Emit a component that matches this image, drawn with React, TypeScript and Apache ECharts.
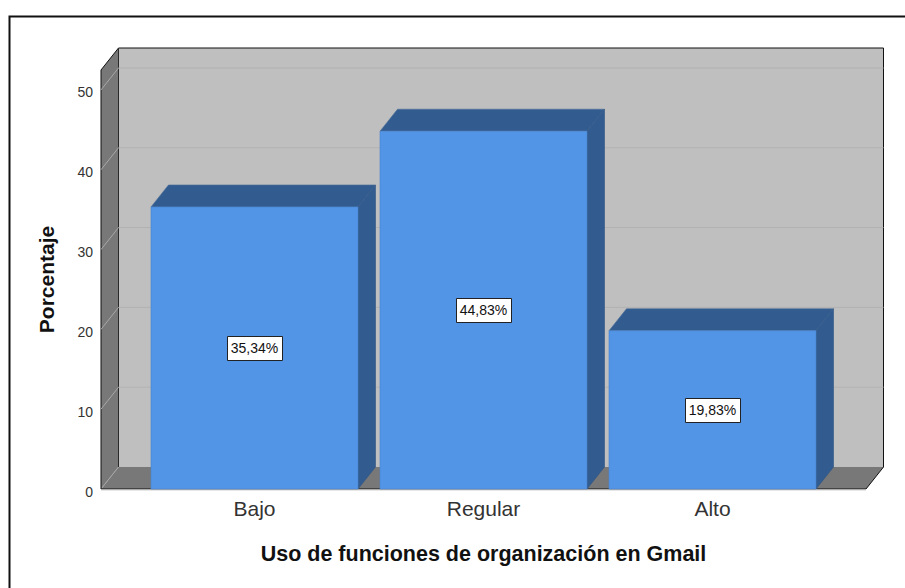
import React, { useEffect, useRef } from "react";
import * as echarts from "echarts";

const categories = ["Bajo", "Regular", "Alto"];
const percentages = [35.34, 44.83, 19.83];
const percentLabels = ["35,34%", "44,83%", "19,83%"];
const yTicks = [0, 10, 20, 30, 40, 50];

const FONT = "'Liberation Sans', Arial, sans-serif";
const DX = 17.5;
const DY = -22;
const PAD = 39;

const renderWall = (params: any, api: any) => {
  const cs = params.coordSys;
  const left = cs.x - PAD;
  const right = cs.x + cs.width + PAD;
  const top = cs.y;
  const bottom = cs.y + cs.height;
  const children: any[] = [];
  const poly = (points: number[][], fill: string) => ({
    type: "polygon",
    shape: { points },
    style: { fill, stroke: "none" },
  });
  const line = (x1: number, y1: number, x2: number, y2: number, stroke: string, lineWidth = 1) => ({
    type: "line",
    shape: { x1, y1, x2, y2 },
    style: { stroke, lineWidth, fill: "none" },
  });
  if (params.dataIndex === 0) {
    children.push(poly([[left + DX, top + DY], [right + DX, top + DY], [right + DX, bottom + DY], [left + DX, bottom + DY]], "#bfbfbf"));
    children.push(poly([[left, top], [left + DX, top + DY], [left + DX, bottom + DY], [left, bottom]], "#787878"));
    children.push(poly([[left, bottom], [left + DX, bottom + DY], [right + DX, bottom + DY], [right, bottom]], "#787878"));
  }
  const y = api.coord([0, api.value(0)])[1];
  children.push(line(left, y, left + DX, y + DY, "#a8a8a8"));
  if (params.dataIndex > 0) children.push(line(left + DX, y + DY, right + DX, y + DY, "#b2b2b2"));
  if (params.dataIndex === 0) {
    children.push(line(left, top, left, bottom, "#111"));
    children.push(line(left, top, left + DX, top + DY, "#111"));
    children.push(line(left + DX, top + DY, right + DX, top + DY, "#111"));
    children.push(line(left + DX, top + DY, left + DX, bottom + DY, "#2a2a2a"));
    children.push(line(right + DX, top + DY, right + DX, bottom + DY, "#111"));
    children.push(line(right, bottom, right + DX, bottom + DY, "#111"));
    children.push(line(left, bottom, right, bottom, "#111"));
    children.push(line(left, bottom + 1, right, bottom + 1, "#d0d0d0"));
  }
  return { type: "group", children };
};

const renderBar = (params: any, api: any) => {
  const i = api.value(0);
  const v = api.value(1);
  const [cx, yTop] = api.coord([i, v]);
  const [, y0] = api.coord([i, 0]);
  const w = api.size([1, 0])[0] * 0.904;
  const x0 = cx - w / 2;
  const x1 = cx + w / 2;
  const dark = "#325c8f";
  const edge = "#2f5687";
  const label = percentLabels[params.dataIndex];
  return {
    type: "group",
    children: [
      { type: "polygon", shape: { points: [[x0, yTop], [x0 + DX, yTop + DY], [x1 + DX, yTop + DY], [x1, yTop]] }, style: { fill: dark, stroke: "#4d6f98", lineWidth: 0.6 } },
      { type: "polygon", shape: { points: [[x1, yTop], [x1 + DX, yTop + DY], [x1 + DX, y0 + DY], [x1, y0]] }, style: { fill: dark, stroke: edge, lineWidth: 0.6 } },
      { type: "rect", shape: { x: x0, y: yTop, width: w, height: y0 - yTop }, style: { fill: "#5294e6", stroke: "#4a85cf", lineWidth: 0.6 } },
      { type: "rect", shape: { x: Math.round(cx - 27.5) + 0.5, y: Math.round((y0 + yTop) / 2 - 12) + 0.5, width: 55, height: 24 }, style: { fill: "#ffffff", stroke: "#222222", lineWidth: 1 } },
      { type: "text", style: { text: label, x: cx, y: (y0 + yTop) / 2, align: "center", verticalAlign: "middle", fill: "#111", font: `14px ${FONT}` } },
    ],
  };
};

export default function App() {
  const ref = useRef<HTMLDivElement>(null);
  useEffect(() => {
    const chart = echarts.init(ref.current!, undefined, { renderer: "svg" });
    chart.setOption({
      animation: false,
      backgroundColor: "#ffffff",
      textStyle: { fontFamily: FONT },
      graphic: [
        { type: "polyline", silent: true, shape: { points: [[9.5, 600], [9.5, 16.5], [910, 16.5]] }, style: { stroke: "#111", lineWidth: 2, fill: "none" } },
      ],
      grid: { left: 140, right: 78, top: 70, bottom: 99 },
      xAxis: {
        type: "category",
        data: categories,
        name: "Uso de funciones de organización en Gmail",
        nameLocation: "middle",
        nameGap: 54,
        nameTextStyle: { fontFamily: FONT, fontSize: 21.5, fontWeight: "bold", color: "#111" },
        axisLine: { show: false },
        axisTick: { show: false },
        axisLabel: { fontFamily: FONT, fontSize: 21, color: "#333", margin: 9 },
        splitLine: { show: false },
      },
      yAxis: {
        type: "value",
        min: 0,
        max: 52.5,
        interval: 10,
        offset: 39,
        name: "Porcentaje",
        nameLocation: "middle",
        nameGap: 44,
        nameTextStyle: { fontFamily: FONT, fontSize: 21, fontWeight: "bold", color: "#111" },
        axisLine: { show: false },
        axisTick: { show: false },
        axisLabel: { fontFamily: FONT, fontSize: 14, color: "#333", margin: 8, showMaxLabel: false, verticalAlign: "top", lineHeight: 5 },
        splitLine: { show: false },
      },
      series: [
        {
          type: "custom",
          name: "Paredes",
          coordinateSystem: "cartesian2d",
          clip: false,
          silent: true,
          z: 1,
          encode: { y: 0 },
          data: yTicks.map((t) => [t]),
          renderItem: renderWall,
        },
        {
          type: "custom",
          name: "Porcentaje",
          coordinateSystem: "cartesian2d",
          clip: false,
          z: 2,
          encode: { x: 0, y: 1 },
          data: percentages.map((v, i) => [i, v]),
          renderItem: renderBar,
        },
      ],
    });
    return () => chart.dispose();
  }, []);
  return <div ref={ref} style={{ position: "absolute", left: 0, top: 0, width: 905, height: 588 }} />;
}
